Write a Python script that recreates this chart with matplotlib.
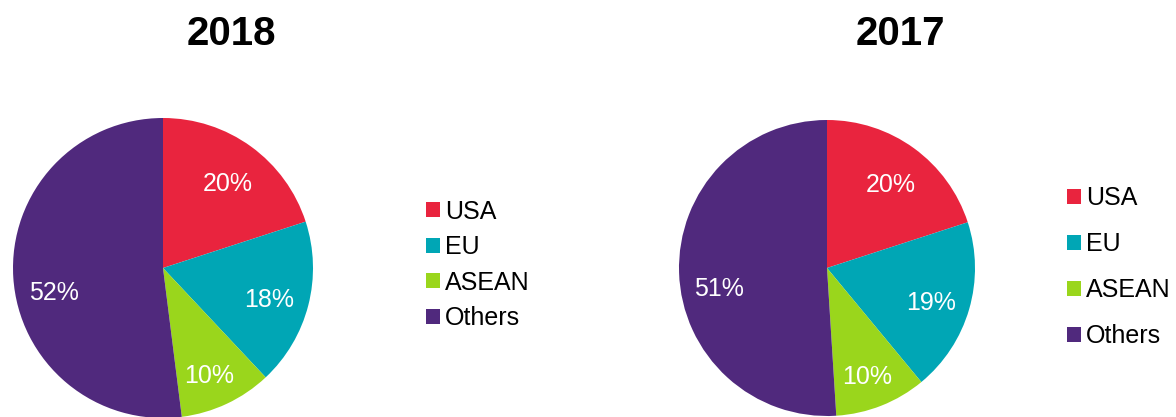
import matplotlib
matplotlib.use("Agg")
import matplotlib.pyplot as plt

plt.rcParams['font.family'] = ['Liberation Sans', 'DejaVu Sans']

categories = ["USA", "EU", "ASEAN", "Others"]
values_2018 = [20, 18, 10, 52]
values_2017 = [20, 19, 10, 51]
titles = ["2018", "2017"]
colors = ["#E9243E", "#00A6B5", "#9AD61C", "#50297D"]

W, H = 1176, 417
fig = plt.figure(figsize=(W / 100, H / 100), dpi=100)

def px_axes(cx, cy, r):
    return fig.add_axes([(cx - r) / W, (H - cy - r) / H, 2 * r / W, 2 * r / H])

specs = [
    dict(vals=values_2018, cx=163, cy=268, r=150, title_x=231,
         leg_x=426, leg_y=265, spacing=0.46),
    dict(vals=values_2017, cx=827, cy=268, r=148, title_x=900,
         leg_x=1067, leg_y=267, spacing=0.88),
]
# small downward nudges of the label positions (fraction of radius)
label_nudge = [0.03, 0.03, 0.06, 0.12]

for spec, title in zip(specs, titles):
    ax = px_axes(spec["cx"], spec["cy"], spec["r"])
    wedges, texts, autotexts = ax.pie(
        spec["vals"], colors=colors, startangle=90, counterclock=False,
        autopct=lambda p: f"{p:.0f}%", pctdistance=0.73,
        textprops=dict(color="white", fontsize=18),
        wedgeprops=dict(linewidth=0))
    for t, dy in zip(autotexts, label_nudge):
        x, y = t.get_position()
        t.set_position((x, y - dy))
    ax.set_xlim(-1, 1)
    ax.set_ylim(-1, 1)
    ax.set_aspect("equal")
    fig.text(spec["title_x"] / W, 1 - 34 / H, title, ha="center", va="center",
             fontsize=29, fontweight="bold", color="black")
    fig.legend(wedges, categories, loc="center left",
               bbox_to_anchor=(spec["leg_x"] / W, 1 - spec["leg_y"] / H),
               frameon=False, fontsize=18, borderpad=0, borderaxespad=0,
               handlelength=0.55, handleheight=0.55, handletextpad=0.2,
               labelspacing=spec["spacing"])

fig.savefig("out.png", dpi=100)
